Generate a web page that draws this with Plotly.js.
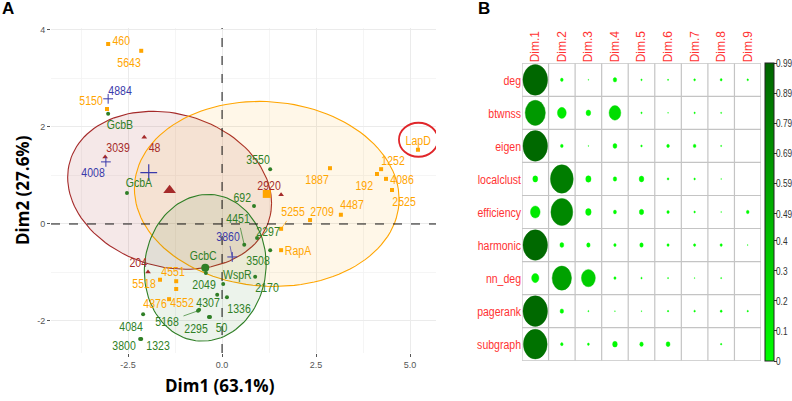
<!DOCTYPE html>
<html><head><meta charset="utf-8">
<script src="https://cdn.plot.ly/plotly-3.0.1.min.js"></script>
<style>html,body{margin:0;padding:0;background:#fff}#chart{width:792px;height:401px}</style>
</head><body><div id="chart"></div>
<script>
// ---------------- Panel A data (Dim1 / Dim2 coordinates) ----------------
const orangeIds = ['460','5643','5150','LapD','1252','192','4086','2525','1887','4487','2709','5255','RapA','5518','4551','4552','4876'];
const orangeX = [-3.03,-2.15,-3.06,5.21,4.23,4.12,4.36,4.52,2.87,3.16,2.34,1.57,1.57,-1.65,-1.22,-1.22,-1.41];
const orangeY = [3.71,3.57,2.37,1.53,1.13,1.03,0.93,0.70,1.15,0.19,0.08,-0.10,-0.54,-1.15,-1.18,-1.34,-1.55];
const redIds = ['3039','48','204','2920'];
const redX = [-3.11,-2.07,-1.97,1.57];
const redY = [1.38,1.79,-0.99,0.60];
const blueIds = ['4884','4008','3860'];
const blueX = [-3.03,-3.09,0.27];
const blueY = [2.58,1.28,-0.68];
const greenIds = ['GcbB','GcbA','3550','692','4451','2297','3508','GcbC','WspR','2170','2049','1336','4307','5168','2295','50','4084','3800','1323'];
const greenX = [-3.03,-2.53,1.28,0.85,0.59,0.93,1.28,-0.43,0.03,0.88,-0.13,0.13,-0.61,-0.64,-0.35,-0.32,-2.10,-2.18,-2.15];
const greenY = [2.27,0.64,1.13,0.37,-0.43,-0.29,-0.54,-1.01,-1.24,-1.09,-1.46,-1.51,-1.77,-1.79,-1.92,-1.92,-1.86,-2.37,-2.37];
const xTickVals = [-2.5,0,2.5,5];
const xTickText = ['-2.5','0.0','2.5','5.0'];
const yTickVals = [-2,0,2,4];
const yTickText = ['-2','0','2','4'];

// ---------------- Panel B data (quality of representation per dimension) ----------------
const dimLabels = ['Dim.1','Dim.2','Dim.3','Dim.4','Dim.5','Dim.6','Dim.7','Dim.8','Dim.9'];
const varLabels = ['deg','btwnss','eigen','localclust','efficiency','harmonic','nn_deg','pagerank','subgraph'];
const deg        = [0.97,0.012,0.001,0.02,0.003,0.002,0.005,0.006,0.004];
const btwnss     = [0.65,0.125,0.035,0.22,0.003,0.001,0.003,0.002,0.0];
const eigen      = [0.96,0.012,0.001,0.025,0.004,0.012,0.012,0.002,0.0];
const localclust = [0.04,0.83,0.045,0.02,0.035,0.005,0.004,0.001,0.0];
const efficiency = [0.15,0.76,0.05,0.015,0.03,0.01,0.004,0.001,0.012];
const harmonic   = [0.96,0.025,0.02,0.01,0.02,0.008,0.008,0.008,0.001];
const nn_deg     = [0.085,0.6,0.31,0.008,0.003,0.002,0.001,0.002,0.0];
const pagerank   = [0.96,0.02,0.002,0.001,0.001,0.003,0.004,0.006,0.003];
const subgraph   = [0.9,0.01,0.006,0.035,0.02,0.025,0.0,0.003,0.0];
const cbTickVals = [0,0.1,0.2,0.3,0.4,0.49,0.59,0.69,0.79,0.89,0.99];
const cbTickText = ['0','0.1','0.2','0.3','0.4','0.49','0.59','0.69','0.79','0.89','0.99'];
const cbMax = 0.99;

// ---------------- styling ----------------
const SANS = '"Liberation Sans",Arial,sans-serif';
const C_OR = '#FFA500', C_RD = '#A52A2A', C_BL = '#3A3AAA', C_GR = '#2F7F26';
const LABEL_SQUEEZE = 0.78;
// label offsets in pixels [dx, dy(down)], leader flag
const orangeOff = [[13,-4],[-12,12],[-16,-9],[1,-9],[12,-9],[-12,11],[16,1],[12,11],[-13,11],[11,-10],[12,-9],[12,-17,1],[17,0],[-16,4],[-3,-10],[6,14],[-14,4]];
const redOff = [[13,-10],[10,10],[-10,-9],[-12,-9]];
const blueOff = [[12,-8],[-13,11],[-4,-20,1]];
const greenOff = [[12,11],[12,-10],[-12,-10],[-12,-9],[-6,-26,1],[11,-7],[-12,10],[-2,-17],[14,-10],[12,11],[-13,-10],[12,11],[9,-7],[-31,11,1],[-13,11],[11,10],[-12,12],[-16,7],[17,7]];

const mean = a => a.reduce((s,v)=>s+v,0)/a.length;

function ellipsePath(xs, ys, level){
  const n = xs.length, mx = mean(xs), my = mean(ys);
  let sxx=0, syy=0, sxy=0;
  for(let i=0;i<n;i++){const dx=xs[i]-mx, dy=ys[i]-my; sxx+=dx*dx; syy+=dy*dy; sxy+=dx*dy;}
  sxx/=(n-1); syy/=(n-1); sxy/=(n-1);
  const d = n-1;
  const qf = (d/2)*(Math.pow(1-level,-2/d)-1); // F(2,d) quantile
  const chi = Math.sqrt(2*qf);
  const l11 = Math.sqrt(sxx), l21 = sxy/l11, l22 = Math.sqrt(Math.max(syy-l21*l21,0));
  const ex=[], ey=[];
  for(let k=0;k<=120;k++){
    const t = 2*Math.PI*k/120, u=Math.cos(t), v=Math.sin(t);
    ex.push(mx+chi*l11*u); ey.push(my+chi*(l21*u+l22*v));
  }
  return {x:ex, y:ey};
}

const traces = [];
function addEllipse(xs, ys, col, fill){
  const e = ellipsePath(xs, ys, 0.5);
  traces.push({type:'scatter', mode:'lines', x:e.x, y:e.y, xaxis:'x', yaxis:'y',
    fill:'toself', fillcolor:fill, line:{color:col, width:1.1}, hoverinfo:'skip'});
}
addEllipse(redX, redY, C_RD, 'rgba(165,42,42,0.11)');
addEllipse(orangeX, orangeY, C_OR, 'rgba(255,165,0,0.09)');
addEllipse(greenX, greenY, C_GR, 'rgba(47,127,38,0.09)');

function addPts(xs, ys, col, sym, size, lw){
  traces.push({type:'scatter', mode:'markers', x:xs, y:ys, xaxis:'x', yaxis:'y', hoverinfo:'skip',
    marker:{symbol:sym, size:size, color:col, line:{color:col, width:lw||0}}});
}
addPts(orangeX, orangeY, C_OR, 'square', 4);
addPts(redX, redY, C_RD, 'triangle-up', 5);
addPts(greenX, greenY, C_GR, 'circle', 4);
addPts(blueX, blueY, C_BL, 'cross-thin-open', 7, 1);
// group centroids
addPts([mean(orangeX)],[mean(orangeY)], C_OR, 'square', 8);
addPts([mean(redX)],[mean(redY)], C_RD, 'triangle-up', 11);
addPts([mean(greenX)],[mean(greenY)], C_GR, 'circle', 8);
addPts([mean(blueX)],[mean(blueY)], C_BL, 'cross-thin-open', 12, 1.2);

const annotations = [];
function addLabels(ids, xs, ys, offs, col){
  ids.forEach((id,i)=>{
    const o = offs[i];
    if(o[2]){
      annotations.push({x:xs[i], y:ys[i], xref:'x', yref:'y', text:id, showarrow:true, ax:o[0], ay:o[1],
        arrowhead:0, arrowwidth:0.7, arrowcolor:col, standoff:1, font:{family:SANS, size:13.5, color:col}});
    } else {
      annotations.push({x:xs[i], y:ys[i], xref:'x', yref:'y', text:id, showarrow:false,
        xshift:o[0], yshift:-o[1], font:{family:SANS, size:13.5, color:col}});
    }
  });
}
addLabels(orangeIds, orangeX, orangeY, orangeOff, C_OR);
addLabels(redIds, redX, redY, redOff, C_RD);
addLabels(blueIds, blueX, blueY, blueOff, C_BL);
addLabels(greenIds, greenX, greenY, greenOff, C_GR);
const nPointLabels = annotations.length;

// colour-bar tick labels (drawn as paper annotations so that they fit the right edge)
const CB_BOTTOM = 1-360.7/401, CB_LEN = 297.4/401;
const cbLabelStart = annotations.length;
cbTickVals.forEach((v,i)=>{
  annotations.push({xref:'paper', yref:'paper', x:775/792, y:CB_BOTTOM + CB_LEN*v/cbMax, xanchor:'left', yanchor:'middle',
    showarrow:false, borderpad:0, text:cbTickText[i], font:{family:SANS, size:11.5, color:'#333'}});
});
const cbLabelEnd = annotations.length;

// titles and panel letters
annotations.push({xref:'paper', yref:'paper', x:220.5/792, y:1-385/401, xanchor:'center', yanchor:'middle', showarrow:false,
  text:'<b>Dim1 (63.1%)</b>', font:{family:'"Open Sans",sans-serif', size:17, color:'#000'}});
annotations.push({xref:'paper', yref:'paper', x:22/792, y:1-190/401, xanchor:'center', yanchor:'middle', showarrow:false, textangle:-90,
  text:'<b>Dim2 (27.6%)</b>', font:{family:'"Open Sans",sans-serif', size:17, color:'#000'}});
annotations.push({xref:'paper', yref:'paper', x:0, y:1, xanchor:'left', yanchor:'top', yshift:3, showarrow:false,
  text:'<b>A</b>', font:{family:SANS, size:17, color:'#000'}});
annotations.push({xref:'paper', yref:'paper', x:476/792, y:1, xanchor:'left', yanchor:'top', yshift:3, showarrow:false,
  text:'<b>B</b>', font:{family:SANS, size:17, color:'#000'}});

// ---------------- Panel B ----------------
const matrix = [deg, btwnss, eigen, localclust, efficiency, harmonic, nn_deg, pagerank, subgraph];
const shapes = [];
function lerpColor(v){
  const t = Math.max(0, Math.min(1, v/cbMax));
  const g = Math.round(255 + (100-255)*t);
  return 'rgb(0,'+g+',0)';
}
matrix.forEach((row, ri)=>{
  row.forEach((v, ci)=>{
    const r = 0.47*Math.sqrt(v/cbMax);
    if(r <= 0.004) return;
    const col = lerpColor(v);
    shapes.push({type:'circle', xref:'x2', yref:'y2', x0:ci+1-r, x1:ci+1+r, y0:ri+1-r, y1:ri+1+r,
      fillcolor:col, line:{color:col, width:0.4}, layer:'above'});
  });
});
for(let k=0;k<=9;k++){
  shapes.push({type:'line', xref:'x2', yref:'y2', x0:k+0.5, x1:k+0.5, y0:0.5, y1:9.5, line:{color:'#C4C4C4', width:1.2}, layer:'below'});
  shapes.push({type:'line', xref:'x2', yref:'y2', x0:0.5, x1:9.5, y0:k+0.5, y1:k+0.5, line:{color:'#C4C4C4', width:1.2}, layer:'below'});
}
// zero reference lines in panel A
shapes.push({type:'line', xref:'x domain', yref:'y', x0:0, x1:1, y0:0, y1:0, line:{color:'#111', width:1, dash:'dash'}});
shapes.push({type:'line', xref:'x', yref:'y domain', x0:0, x1:0, y0:0, y1:1, line:{color:'#111', width:1, dash:'dash'}});
// red highlight ring around LapD
const iLap = orangeIds.indexOf('LapD');
shapes.push({type:'circle', xref:'x', yref:'y', xsizemode:'pixel', ysizemode:'pixel',
  xanchor:orangeX[iLap], yanchor:orangeY[iLap], x0:-19, x1:20, y0:-7, y1:27,
  line:{color:'#E0262A', width:1.8}, fillcolor:'rgba(0,0,0,0)'});

// colorbar carrier (bar and tick marks; its labels are the annotations above)
const cx=[], cy=[], cv=[];
matrix.forEach((row,ri)=>row.forEach((v,ci)=>{cx.push(ci+1); cy.push(ri+1); cv.push(v);}));
traces.push({type:'scatter', mode:'markers', x:cx, y:cy, xaxis:'x2', yaxis:'y2', hoverinfo:'skip',
  marker:{size:1, opacity:0, color:cv, cmin:0, cmax:cbMax, colorscale:[[0,'#00FF00'],[1,'#006400']], showscale:true,
    colorbar:{x:765/792, xanchor:'left', y:1-212/401, yanchor:'middle', len:298, lenmode:'pixels', thickness:9,
      thicknessmode:'pixels', xpad:0, ypad:0, outlinewidth:1, outlinecolor:'#222', ticks:'outside', ticklen:3,
      tickcolor:'#333', tickmode:'array', tickvals:cbTickVals, showticklabels:false}}});

const layout = {
  width:792, height:401, margin:{l:0,r:0,t:0,b:0, autoexpand:false}, paper_bgcolor:'#fff', plot_bgcolor:'#fff', showlegend:false,
  xaxis:{domain:[51/792, 436/792], range:[-4.55,5.69], anchor:'y', tickmode:'array', tickvals:xTickVals, ticktext:xTickText,
    ticks:'outside', ticklen:3, tickcolor:'#555', tickfont:{family:SANS, size:9, color:'#555'},
    showgrid:true, gridcolor:'#EBEBEB', gridwidth:1, zeroline:false, showline:false,
    minor:{tickmode:'array', tickvals:[-3.75,-1.25,1.25,3.75], showgrid:true, gridcolor:'#F3F3F3', gridwidth:0.8}},
  yaxis:{domain:[1-353/401, 1-28/401], range:[-2.66,4.04], anchor:'x', tickmode:'array', tickvals:yTickVals, ticktext:yTickText,
    ticks:'outside', ticklen:3, tickcolor:'#555', tickfont:{family:SANS, size:9, color:'#555'},
    showgrid:true, gridcolor:'#EBEBEB', gridwidth:1, zeroline:false, showline:false,
    minor:{tickmode:'array', tickvals:[-1,1,3], showgrid:true, gridcolor:'#F3F3F3', gridwidth:0.8}},
  xaxis2:{domain:[522/792, 761/792], range:[0.5,9.5], anchor:'y2', side:'top', tickmode:'array',
    tickvals:[1,2,3,4,5,6,7,8,9], ticktext:dimLabels, tickangle:-90, ticks:'', showgrid:false, zeroline:false, showline:false,
    tickfont:{family:SANS, size:12, color:'#FF3333'}},
  yaxis2:{domain:[1-360.7/401, 1-63.3/401], range:[9.5,0.5], anchor:'x2', tickmode:'array',
    tickvals:[1,2,3,4,5,6,7,8,9], ticktext:varLabels, ticks:'', showgrid:false, zeroline:false, showline:false,
    tickfont:{family:SANS, size:13.5, color:'#FF3333'}},
  shapes:shapes, annotations:annotations
};

function squeeze(t, factor, anchorRight){
  const bb = t.getBBox();
  const xa = anchorRight ? bb.x + bb.width : bb.x;
  const base = t.getAttribute('transform') || '';
  t.setAttribute('transform', base+' translate('+xa+',0) scale('+factor+',1) translate('+(-xa)+',0)');
}
Plotly.newPlot('chart', traces, layout, {staticPlot:true, displayModeBar:false}).then(gd=>{
  // the original labels use a condensed face: squeeze labels horizontally
  gd.querySelectorAll('g.annotation').forEach(g=>{
    const idx = +g.getAttribute('data-index');
    const t = g.querySelector('text.annotation-text');
    if(!t) return;
    if(idx < nPointLabels){
      t.style.transformBox='fill-box'; t.style.transformOrigin='center'; t.style.transform='scaleX('+LABEL_SQUEEZE+')';
    } else if(idx >= cbLabelStart && idx < cbLabelEnd){
      t.style.transformBox='fill-box'; t.style.transformOrigin='left center'; t.style.transform='scaleX(0.72)';
    }
  });
  // condense the row labels of panel B (right edge fixed)
  gd.querySelectorAll('g.y2tick text').forEach(t=>squeeze(t, 0.78, true));
});
</script></body></html>
